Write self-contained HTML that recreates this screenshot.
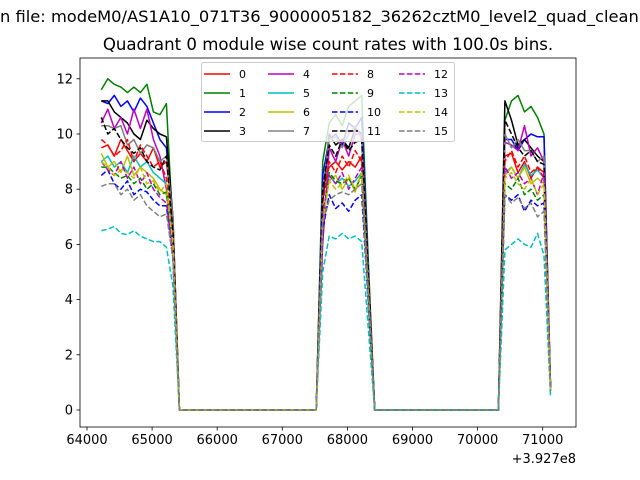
<!DOCTYPE html>
<html><head><meta charset="utf-8"><style>
html,body{margin:0;padding:0;background:#fff;}
svg{display:block;font-family:"DejaVu Sans","Liberation Sans",sans-serif;}
</style></head><body>
<svg id="chart" width="640" height="480" viewBox="0 0 640 480" xmlns="http://www.w3.org/2000/svg">
<text x="0" y="22" font-size="16.3" fill="#000">n file: modeM0/AS1A10_071T36_9000005182_36262cztM0_level2_quad_clean.evt</text>
<text x="328" y="50" font-size="16.6" text-anchor="middle" fill="#000">Quadrant 0 module wise count rates with 100.0s bins.</text>
<g id="plot"></g>
<g id="axes"></g>
<g id="legend"></g>
<text x="576" y="463" font-size="13" text-anchor="end" fill="#000">+3.927e8</text>
</svg>
<script>
const NS="http://www.w3.org/2000/svg";
const tBase=64220, tStep=100;
const xTicks=[64000,65000,66000,67000,68000,69000,70000,71000];
const yTicks=[0,2,4,6,8,10,12];
const seriesNames=["0","1","2","3","4","5","6","7","8","9","10","11","12","13","14","15"];
const segA=[
[9.5,9.6,9.2,9.8,9.4,9.0,9.3,9.0,9.5,8.8,9.0,7.0],
[11.6,12.0,11.8,11.7,11.5,11.7,11.5,11.8,10.8,10.7,11.1,6.5],
[11.2,11.1,11.4,11.0,11.2,10.8,11.3,11.0,10.4,9.8,9.5,6.8],
[11.2,11.2,10.8,10.6,10.4,10.0,9.8,10.5,10.2,10.0,9.9,7.0],
[10.4,10.9,10.2,10.6,10.0,10.9,10.2,10.9,9.8,9.2,8.0,6.5],
[9.0,9.2,8.8,9.0,8.6,9.2,8.8,9.0,8.6,8.4,8.2,6.5],
[9.3,8.8,9.0,8.6,9.2,8.5,8.8,8.6,8.4,8.0,7.8,6.0],
[10.3,10.3,10.2,10.3,9.6,9.8,9.3,9.6,9.5,9.0,9.2,7.0],
[9.8,9.6,9.2,9.4,9.8,9.0,9.6,9.2,8.8,9.0,8.4,6.5],
[8.8,8.8,8.6,8.4,8.5,8.2,8.4,8.0,8.2,7.8,7.9,6.0],
[8.5,8.7,8.2,8.0,8.3,7.8,8.0,7.9,7.6,7.4,7.4,5.5],
[10.6,10.0,10.2,9.8,9.5,9.3,9.5,9.0,8.8,8.7,9.2,6.5],
[9.0,8.7,8.5,9.0,8.4,8.8,8.2,8.6,8.0,7.7,7.5,5.8],
[6.5,6.55,6.65,6.4,6.35,6.5,6.3,6.2,6.1,6.1,5.9,4.5],
[9.0,8.8,8.5,8.7,8.6,8.4,8.8,8.2,8.3,7.9,8.2,6.0],
[8.1,8.2,8.2,7.8,8.0,7.6,7.8,7.4,7.2,7.0,7.1,5.5]];
const segB=[
[8.0,8.8,9.0,8.7,9.0,8.8,9.2,4.5],
[9.0,10.4,10.7,10.3,11.0,11.2,11.4,5.5],
[8.5,9.8,10.0,9.6,10.4,10.2,10.6,5.2],
[7.5,10.0,9.6,9.8,9.5,10.2,10.0,5.0],
[6.0,9.5,9.0,9.8,9.2,10.0,10.0,4.8],
[7.0,8.5,8.2,8.4,8.1,8.3,8.6,4.2],
[7.0,8.3,8.5,8.0,8.4,7.9,8.6,4.2],
[8.0,9.8,9.9,9.5,10.0,10.3,9.8,5.0],
[7.5,9.0,8.6,9.2,8.8,9.4,9.0,4.5],
[7.0,8.6,8.3,8.2,8.4,8.0,8.5,4.2],
[6.5,7.8,7.3,7.5,7.2,7.6,7.8,3.9],
[8.0,9.6,9.2,9.8,9.4,9.7,9.8,5.0],
[7.0,8.5,8.2,8.6,8.0,8.4,8.8,4.4],
[5.0,6.3,6.2,6.4,6.2,6.3,6.1,3.0],
[6.8,8.3,8.0,8.2,8.5,8.0,8.6,4.3],
[6.8,7.6,7.8,7.9,7.8,8.0,8.2,4.0]];
const segC=[
[9.2,9.3,8.6,9.0,8.4,8.8,8.6,0.9],
[10.5,11.2,11.4,10.8,11.0,10.6,10.0,0.8],
[9.8,9.8,9.4,9.8,10.0,9.9,9.9,0.9],
[11.2,10.5,9.6,9.8,9.5,9.2,9.0,0.8],
[9.7,9.6,9.4,10.3,9.2,9.5,9.0,0.8],
[8.6,8.8,8.4,8.9,8.5,8.7,8.4,0.7],
[8.5,8.8,8.4,8.8,8.2,8.4,8.2,0.7],
[10.0,9.5,9.8,9.4,9.4,9.0,9.2,0.8],
[9.0,9.4,8.8,9.2,8.6,8.8,8.4,0.8],
[8.2,8.0,8.4,7.8,8.0,7.6,7.8,0.7],
[7.8,7.6,7.8,7.2,7.6,7.4,7.5,0.7],
[10.5,10.0,9.5,9.2,9.4,9.0,8.9,0.8],
[8.8,8.4,8.6,8.2,8.4,7.8,8.6,0.8],
[5.8,6.0,6.2,6.0,5.9,6.4,5.6,0.5],
[8.4,8.6,8.2,8.0,8.4,7.8,8.2,0.7],
[7.8,7.5,7.7,7.3,7.5,7.0,7.2,0.7]];
const gapAB=22, gapBC=20; // zero-count bins between segments
const colors=["#ff0000","#008000","#0000ff","#000000","#bf00bf","#00bfbf","#bfbf00","#808080"];
const L=80,R=576,T=58,B=427;
const xs=t=>87+(t-64000)*0.0651;
const ys=v=>410-v*27.6;
function mk(tag,attrs,parent){const e=document.createElementNS(NS,tag);for(const k in attrs)e.setAttribute(k,attrs[k]);parent.appendChild(e);return e;}
const plot=document.getElementById('plot');
const axes=document.getElementById('axes');
const leg=document.getElementById('legend');
function fullSeries(i){
  const z1=new Array(gapAB).fill(0), z2=new Array(gapBC).fill(0);
  return segA[i].concat(z1,segB[i],z2,segC[i]);
}
for(let i=0;i<16;i++){
  const vals=fullSeries(i);
  const pts=vals.map((v,k)=>xs(tBase+k*tStep).toFixed(1)+","+ys(v).toFixed(1)).join(" ");
  const p=mk('polyline',{points:pts,fill:"none",stroke:colors[i%8],"stroke-width":1.5,"stroke-linejoin":"round"},plot);
  if(i>=8)p.setAttribute('stroke-dasharray','5.5,2.4');
  
  
}
const frame=mk('rect',{x:L,y:T,width:R-L,height:B-T,fill:"none",stroke:"#000","stroke-width":0.8},axes);


xTicks.forEach(t=>{
  const x=xs(t);
  const tk=mk('line',{x1:x,x2:x,y1:B,y2:B+3.5,stroke:"#000","stroke-width":0.8},axes);
  
  
  const tx=mk('text',{x:x,y:B+17,"font-size":13,"text-anchor":"middle"},axes);
  tx.textContent=t;
  
  
});
yTicks.forEach(v=>{
  const y=ys(v);
  const tk=mk('line',{x1:L-3.5,x2:L,y1:y,y2:y,stroke:"#000","stroke-width":0.8},axes);
  
  
  const tx=mk('text',{x:L-7,y:y+4.5,"font-size":13,"text-anchor":"end"},axes);
  tx.textContent=v;
  
  
});
const box=mk('rect',{x:201.5,y:62.5,width:253,height:79,rx:2,fill:"#fff","fill-opacity":0.8,stroke:"#cccccc","stroke-width":1},leg);


const colX=[204,268,332,399], rowY=[74,93,112,131];
for(let i=0;i<16;i++){
  const c=Math.floor(i/4), r=i%4;
  const g=mk('g',{},leg);
  
  
  const ln=mk('line',{x1:colX[c],x2:colX[c]+26,y1:rowY[r],y2:rowY[r],stroke:colors[i%8],"stroke-width":1.5},g);
  if(i>=8)ln.setAttribute('stroke-dasharray','5.5,2.4');
  const tx=mk('text',{x:colX[c]+35,y:rowY[r]+4,"font-size":11},g);
  tx.textContent=seriesNames[i];
}
</script>
</body></html>
